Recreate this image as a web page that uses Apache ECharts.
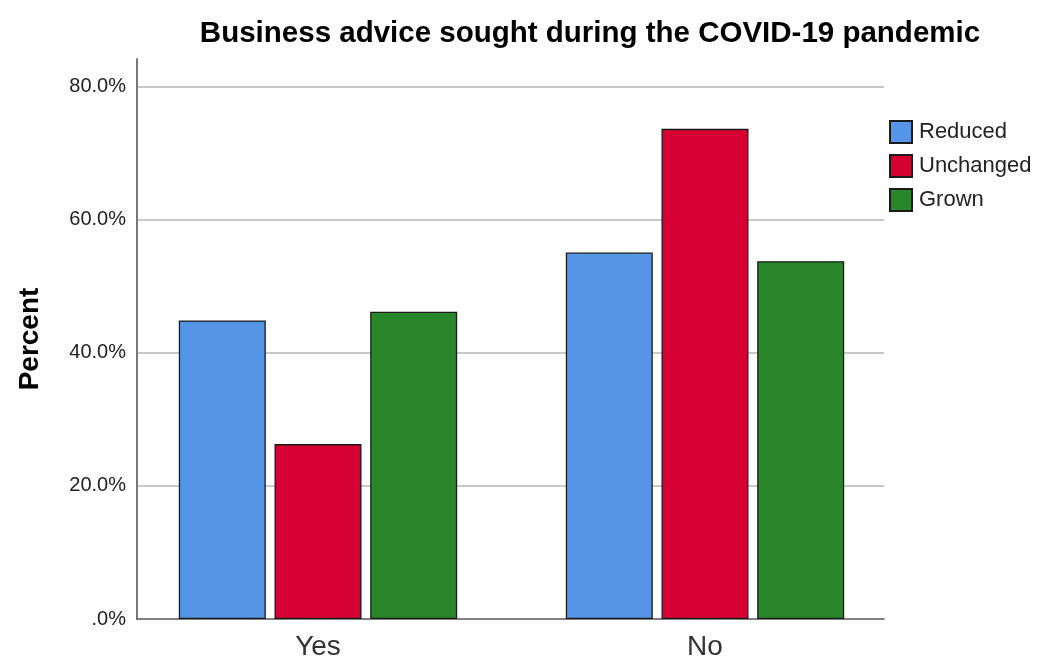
<!DOCTYPE html>
<html><head><meta charset="utf-8">
<script src="https://cdn.jsdelivr.net/npm/echarts@6/dist/echarts.min.js"></script>
<style>html,body{margin:0;padding:0;background:#fff}#c{width:1041px;height:659px}</style>
</head><body><div id="c"></div>
<script>
const categories = ['Yes', 'No'];
const seriesNames = ['Reduced', 'Unchanged', 'Grown'];
const reduced = [44.9, 55.1];
const unchanged = [26.3, 73.7];
const grown = [46.2, 53.8];
const colors = ['#5595e5', '#d60032', '#2a862a'];
const yMax = 84.2;

const chart = echarts.init(document.getElementById('c'));
const font = "'Liberation Sans', Arial, sans-serif";
const mk = (name, data, i) => ({
  name, type: 'bar', data, xAxisIndex: 1, yAxisIndex: 1,
  barWidth: 87, barGap: '10%',
  itemStyle: { color: colors[i], borderColor: '#1a1a1a', borderWidth: 1.3 }
});
chart.setOption({
  animation: false,
  title: { text: 'Business advice sought during the COVID-19 pandemic', left: 585, textAlign: 'center', top: 14,
    textStyle: { fontFamily: font, fontWeight: 'bold', fontSize: 29.5, color: '#000' } },
  legend: { left: 889, top: 120, padding: 0, orient: 'vertical', itemWidth: 22, itemHeight: 22, itemGap: 10,
    data: seriesNames, icon: 'rect',
    textStyle: { fontFamily: font, fontSize: 22, lineHeight: 22, color: '#222', padding: [0, 0, 0, 2] } },
  grid: [
    { left: 137, width: 747, top: 59, bottom: 40, containLabel: false, outerBoundsMode: 'none' },
    { left: 124.5, width: 774, top: 59, bottom: 40, containLabel: false, outerBoundsMode: 'none' }
  ],
  xAxis: [
    { type: 'category', gridIndex: 0, data: categories, axisLine: { lineStyle: { color: '#555', width: 1.5 } },
      axisTick: { show: false }, axisLabel: { show: false } },
    { type: 'category', gridIndex: 1, data: categories, axisLine: { show: false }, axisTick: { show: false },
      axisLabel: { fontFamily: font, fontSize: 28, color: '#333', margin: 14 } }
  ],
  yAxis: [
    { type: 'value', gridIndex: 0, min: 0, max: yMax, interval: 20,
      name: 'Percent', nameLocation: 'middle', nameGap: 93, nameRotate: 90,
      nameTextStyle: { fontFamily: font, fontWeight: 'bold', fontSize: 28, color: '#000' },
      axisLine: { show: true, lineStyle: { color: '#777', width: 2 } }, axisTick: { show: false },
      axisLabel: { showMaxLabel: false, fontFamily: font, fontSize: 20, color: '#222', margin: 11,
        formatter: v => (v === 0 ? '.0%' : v.toFixed(1) + '%') },
      splitLine: { show: true, showMinLine: false, showMaxLine: false, lineStyle: { color: '#c8c8c8', width: 2 } } },
    { type: 'value', gridIndex: 1, min: 0, max: yMax, interval: 20, show: false, splitLine: { show: false } }
  ],
  series: [mk(seriesNames[0], reduced, 0), mk(seriesNames[1], unchanged, 1), mk(seriesNames[2], grown, 2)]
});
</script></body></html>
